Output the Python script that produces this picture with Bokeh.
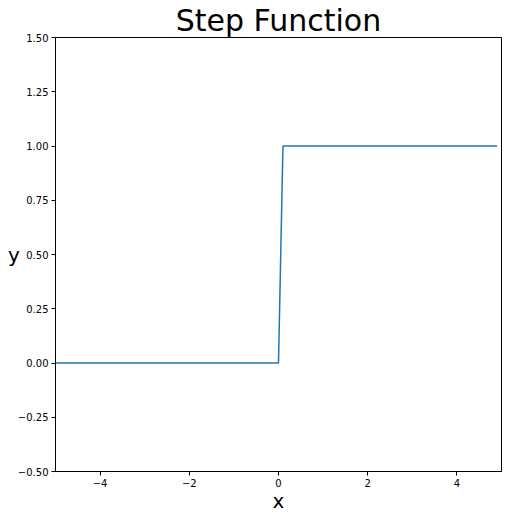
from bokeh.plotting import figure
from bokeh.models import FixedTicker, Title, Range1d
from bokeh.embed import file_html
from bokeh.resources import INLINE

# Data (step function key points)
x_vals = [-5.0, 0.0, 0.1, 4.9]
y_vals = [0.0, 0.0, 1.0, 1.0]

x_ticks = [-4, -2, 0, 2, 4]
x_tick_labels = ["\u22124", "\u22122", "0", "2", "4"]
y_ticks = [-0.5, -0.25, 0.0, 0.25, 0.5, 0.75, 1.0, 1.25, 1.5]
y_tick_labels = ["\u22120.50", "\u22120.25", "0.00", "0.25", "0.50", "0.75", "1.00", "1.25", "1.50"]

FONT = "DejaVu Sans"

p = figure(width=508, height=518, output_backend="svg", toolbar_location=None,
           x_range=Range1d(-5, 5), y_range=Range1d(-0.5, 1.5),
           min_border_left=55, min_border_right=7, min_border_top=36, min_border_bottom=47)

p.title = Title(text="Step Function", align="center", text_font=FONT,
                text_font_size="30px", text_font_style="normal", text_color="black",
                offset=0, standoff=0)

p.line(x_vals, y_vals, line_color="#1f77b4", line_width=1.5)

p.grid.visible = False
p.background_fill_color = "white"
p.border_fill_color = "white"
p.outline_line_color = "black"
p.outline_line_width = 1
p.outline_line_alpha = 1

for ax in (p.xaxis[0], p.yaxis[0]):
    ax.axis_line_color = "black"
    ax.major_tick_line_color = "black"
    ax.major_tick_out = 4
    ax.major_tick_in = 0
    ax.minor_tick_line_color = None
    ax.major_label_text_font = FONT
    ax.major_label_text_font_size = "10px"
    ax.major_label_text_color = "black"
    ax.major_label_standoff = 3
    ax.axis_label_text_font = FONT
    ax.axis_label_text_font_size = "20px"
    ax.axis_label_text_font_style = "normal"
    ax.axis_label_text_color = "black"

p.xaxis.ticker = FixedTicker(ticks=x_ticks)
p.xaxis.major_label_overrides = {t: l for t, l in zip(x_ticks, x_tick_labels)}
p.yaxis.ticker = FixedTicker(ticks=y_ticks)
p.yaxis.major_label_overrides = {t: l for t, l in zip(y_ticks, y_tick_labels)}

p.xaxis.axis_label = "x"
p.xaxis.axis_label_standoff = -1
p.yaxis.axis_label = "y"
p.yaxis.axis_label_standoff = -5
yax = p.yaxis[0]
if "axis_label_orientation" in yax.properties():
    yax.axis_label_orientation = "horizontal"

open("out.html", "w").write(file_html(p, INLINE))
